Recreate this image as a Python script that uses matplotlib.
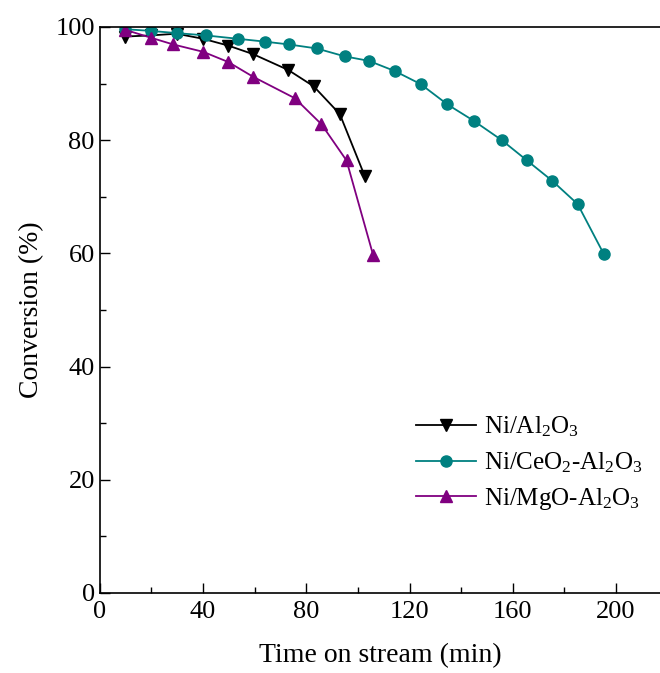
import matplotlib
matplotlib.use('Agg')
import matplotlib.pyplot as plt
from matplotlib.ticker import MultipleLocator

plt.rcParams['font.family'] = ['Liberation Serif', 'DejaVu Serif']
plt.rcParams['mathtext.fontset'] = 'custom'
plt.rcParams['mathtext.rm'] = 'Liberation Serif'
plt.rcParams['mathtext.it'] = 'Liberation Serif:italic'

# Ni/Al2O3
t_al = [9.8, 19.8, 29.8, 40.1, 49.8, 59.4, 73.0, 82.9, 93.0, 102.7]
c_al = [98.3, 98.5, 98.8, 97.9, 96.7, 95.2, 92.4, 89.5, 84.6, 73.6]

# Ni/CeO2-Al2O3
t_ce = [9.8, 19.8, 30.0, 41.1, 53.6, 64.0, 73.3, 84.0, 94.9, 104.3, 114.3,
        124.3, 134.7, 144.9, 155.7, 165.5, 175.3, 185.1, 195.2]
c_ce = [99.6, 99.3, 98.9, 98.5, 97.9, 97.4, 96.9, 96.2, 94.8, 94.0, 92.2,
        89.9, 86.3, 83.4, 80.0, 76.4, 72.8, 68.7, 59.9]

# Ni/MgO-Al2O3
t_mg = [9.8, 19.8, 28.5, 40.1, 49.8, 59.4, 75.6, 85.9, 95.6, 105.9]
c_mg = [99.5, 98.1, 96.9, 95.6, 93.8, 91.2, 87.4, 82.8, 76.4, 59.7]

fig = plt.figure(figsize=(6.6, 6.73), dpi=100)
ax = fig.add_axes([0.151, 0.119, 0.849, 0.841])

ax.plot(t_al, c_al, '-v', color='black', lw=1.3, ms=9, label='Ni/Al$_2$O$_3$')
ax.plot(t_ce, c_ce, '-o', color='#008080', lw=1.3, ms=8, label='Ni/CeO$_2$-Al$_2$O$_3$')
ax.plot(t_mg, c_mg, '-^', color='#800080', lw=1.3, ms=9, label='Ni/MgO-Al$_2$O$_3$')

ax.set_xlim(0, 217)
ax.set_ylim(0, 100)
ax.xaxis.set_major_locator(MultipleLocator(40))
ax.xaxis.set_minor_locator(MultipleLocator(20))
ax.yaxis.set_major_locator(MultipleLocator(20))
ax.yaxis.set_minor_locator(MultipleLocator(10))
ax.tick_params(which='both', direction='in', labelsize=19)
ax.tick_params(axis='x', pad=6)
ax.tick_params(which='major', length=7, width=1)
ax.tick_params(which='minor', length=4, width=1)
ax.spines['right'].set_visible(False)
for s in ['left', 'bottom', 'top']:
    ax.spines[s].set_linewidth(1.2)

ax.set_xlabel('Time on stream (min)', fontsize=20, labelpad=14)
ax.set_ylabel('Conversion (%)', fontsize=20, labelpad=8)

ax.legend(loc='upper left', bbox_to_anchor=(0.525, 0.355), frameon=False,
          fontsize=18, handlelength=2.4, labelspacing=0.45, handletextpad=0.3)

plt.savefig('out.png', dpi=100)
